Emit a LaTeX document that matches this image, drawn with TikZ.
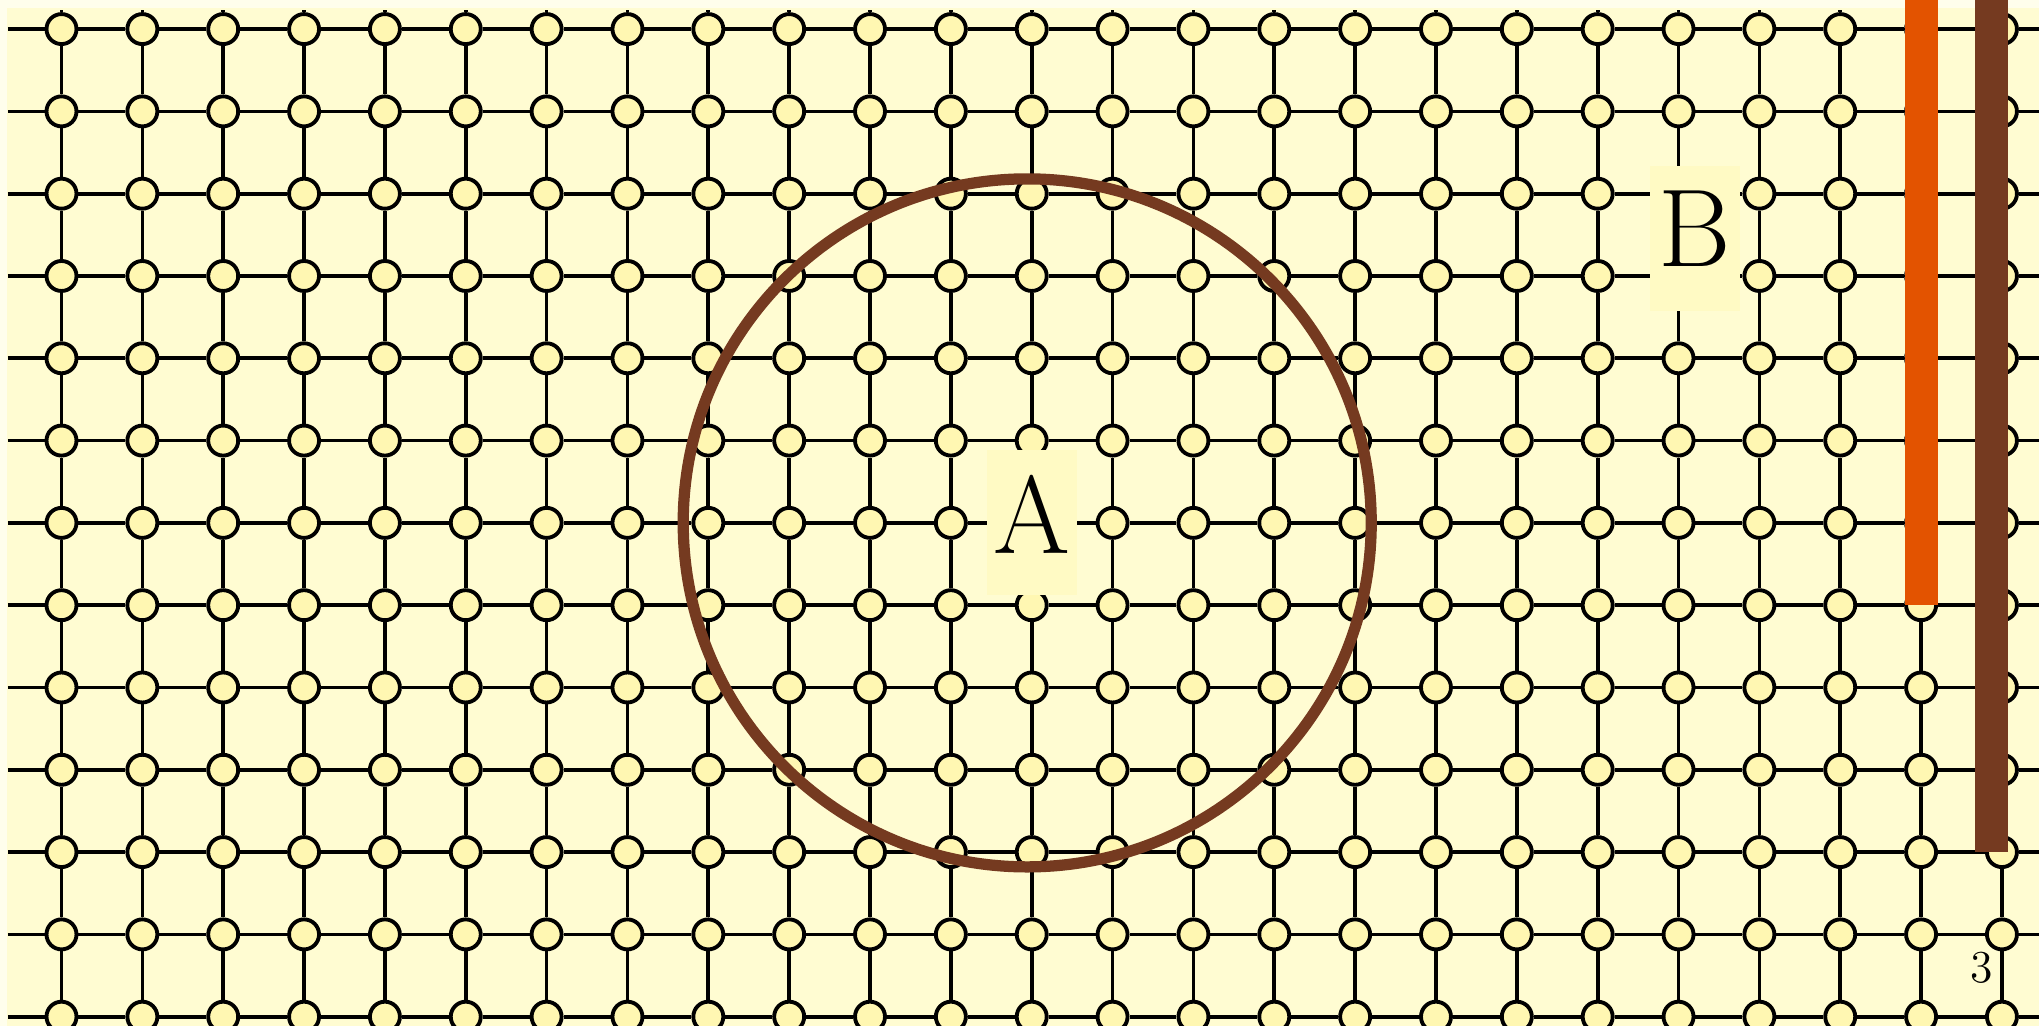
\documentclass[tikz,border=0pt]{standalone}
\usepackage{fontspec}
\usepackage{tikz}
\usetikzlibrary{positioning}

\definecolor{pagewhite}{RGB}{255,254,236}
\definecolor{bgyellow}{RGB}{255,252,210}
\definecolor{siteyellow}{RGB}{255,247,178}
\definecolor{tagyellow}{RGB}{255,250,196}
\definecolor{barorange}{RGB}{227,83,0}
\definecolor{barbrown}{RGB}{117,58,32}

\begin{document}
\begin{tikzpicture}[
  x=0.8085cm, y=0.823cm,
  site/.style={circle, draw, line width=1.1pt, fill=siteyellow, minimum size=0.3cm, inner sep=0pt},
  bond/.style={line width=1.05pt},
  ring/.style={draw=barbrown, line width=3.2pt},
  tag/.style={fill=tagyellow, inner sep=0pt, minimum width=0.9cm, minimum height=1.45cm,
    text depth=0.18cm, font=\fontsize{31.5}{31.5}\selectfont}
]
% slide area
\path[use as bounding box, fill=pagewhite] (-0.615cm,-0.093cm) rectangle ++(20.39cm,10.26cm);
\clip (-0.615cm,-0.093cm) rectangle ++(20.39cm,10.26cm);
\fill[bgyellow] (-0.545cm,-0.093cm) rectangle (19.775cm,10.087cm);

% lattice sites
\foreach \i in {0,...,24}{
  \foreach \j in {0,...,12}{
    \node[site] (n-\i-\j) at (\i,\j) {};
  }
}
% bonds
\foreach \i in {0,...,24}{
  \foreach \j in {0,...,11}{
    \pgfmathtruncatemacro{\k}{\j+1}
    \draw[bond] (n-\i-\j) -- (n-\i-\k);
  }
  \coordinate (top-\i) at (\i,12.23);
  \coordinate (bot-\i) at (\i,-0.3);
  \draw[bond] (n-\i-12) -- (top-\i);
  \draw[bond] (n-\i-0) -- (bot-\i);
}
\foreach \j in {0,...,12}{
  \foreach \i in {0,...,23}{
    \pgfmathtruncatemacro{\k}{\i+1}
    \draw[bond] (n-\i-\j) -- (n-\k-\j);
  }
  \coordinate (w-\j) at (-0.662,\j);
  \coordinate (e-\j) at (24.7,\j);
  \draw[bond] (w-\j) -- (n-0-\j);
  \draw[bond] (n-24-\j) -- (e-\j);
}

% region A and the edge B
\draw[ring] ([xshift=-0.045cm]n-12-6.center) circle[radius=3.44cm];
\node[tag] (labA) at (n-12-6) {A};
\node[tag] (labB) at (20.2,9.46) {B};

\fill[barorange] (22.796,5) rectangle (23.204,12.6);
\fill[barbrown] (23.670,2) rectangle (24.078,12.6);

\node[font=\fontsize{13}{13}\selectfont] (pagenum) at (23.75,0.59) {3};
\end{tikzpicture}
\end{document}
